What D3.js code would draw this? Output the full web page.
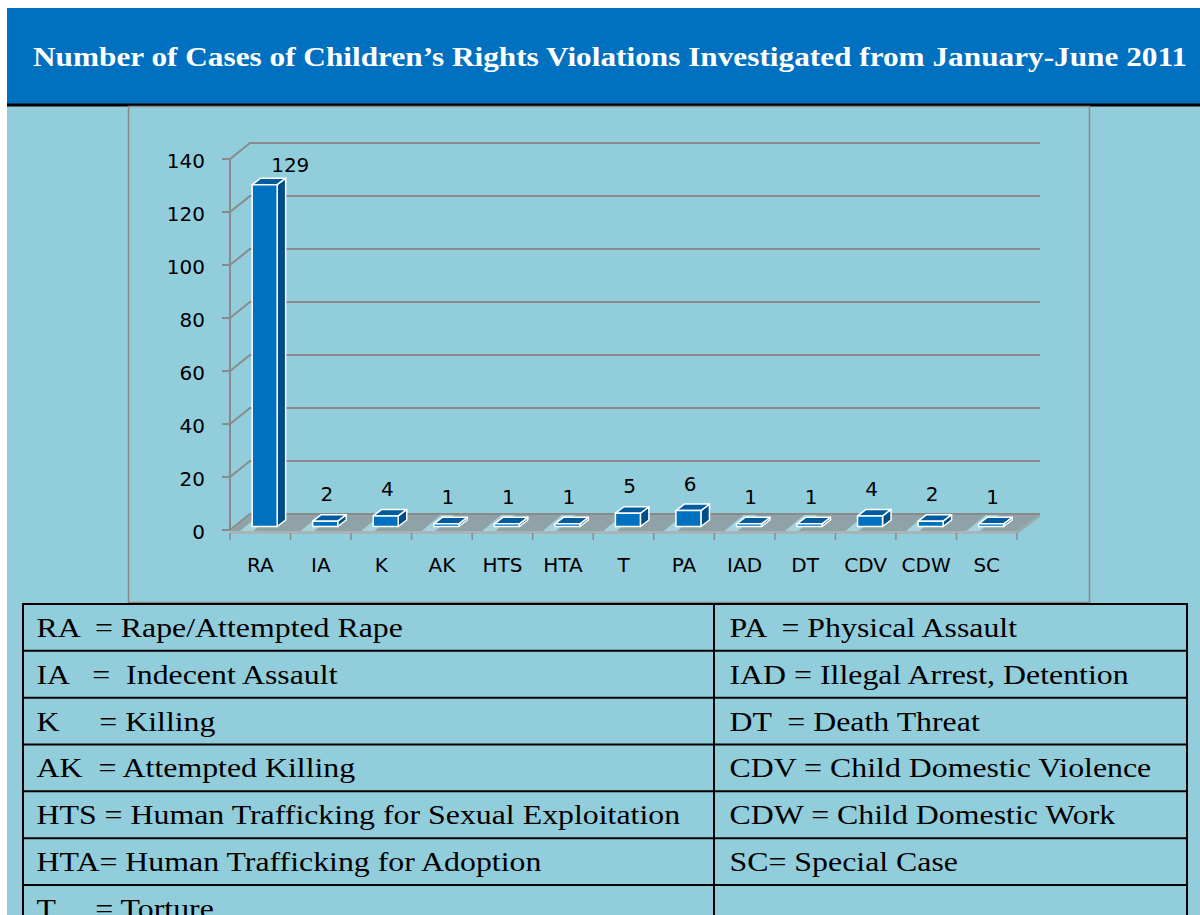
<!DOCTYPE html>
<html><head><meta charset="utf-8">
<script src="https://cdn.jsdelivr.net/npm/d3@7/dist/d3.min.js"></script>
<style>
html,body{margin:0;padding:0;background:#fff;}
svg{display:block;}
text{white-space:pre;}
</style></head>
<body>
<script>
// ---- data ----
const title = "Number of Cases of Children\u2019s Rights Violations Investigated from January-June 2011";
const categories = ["RA","IA","K","AK","HTS","HTA","T","PA","IAD","DT","CDV","CDW","SC"];
const values = [129,2,4,1,1,1,5,6,1,1,4,2,1];
const yTicks = [0,20,40,60,80,100,120,140];
const legendLeft = [
  "RA  = Rape/Attempted Rape",
  "IA   =  Indecent Assault",
  "K     = Killing",
  "AK  = Attempted Killing",
  "HTS = Human Trafficking for Sexual Exploitation",
  "HTA= Human Trafficking for Adoption",
  "T     = Torture"
];
const legendRight = [
  "PA  = Physical Assault",
  "IAD = Illegal Arrest, Detention",
  "DT  = Death Threat",
  "CDV = Child Domestic Violence",
  "CDW = Child Domestic Work",
  "SC= Special Case",
  ""
];

// ---- layout ----
const W = 1200, H = 915;
const svg = d3.select("body").append("svg").attr("width", W).attr("height", H);
const BG = "#92CDDC", BLUE = "#0070C0", GRID = "#8a8a8a";
const SANS = "'DejaVu Sans', sans-serif";

svg.append("rect").attr("x",7).attr("y",8).attr("width",W-7).attr("height",H-8).attr("fill",BG);
svg.append("rect").attr("x",7).attr("y",8).attr("width",W-7).attr("height",96).attr("fill",BLUE);
svg.append("rect").attr("x",7).attr("y",103.5).attr("width",W-7).attr("height",3).attr("fill","#000");
svg.append("text").attr("x",33).attr("y",66).attr("textLength",1154).attr("lengthAdjust","spacingAndGlyphs")
  .attr("font-family","'Liberation Serif', serif").attr("font-weight","bold").attr("font-size",28)
  .attr("fill","#fff").text(title);

// chart frame
svg.append("rect").attr("x",128.5).attr("y",106.5).attr("width",961).attr("height",496)
  .attr("fill","none").attr("stroke",GRID).attr("stroke-width",1.5);

const x = d3.scaleBand().domain(categories).range([230,1017]).paddingInner(0.587).paddingOuter(0.2935);
const y = d3.scaleLinear().domain([0,140]).range([530,159]);
const DX = 20, DY = -16;           // full depth offset
const F = 0.22;                    // bar depth position
const BDX = 8.5, BDY = -6.5;       // bar depth
const step = x.step();
const xL = x.range()[0], xR = x.range()[1];
const mid = c => x(c) + x.bandwidth()/2;

const g = svg.append("g");
// gridlines (side + back wall)
yTicks.forEach(t=>{
  const yy = y(t);
  g.append("line").attr("x1",xL-8).attr("x2",xL).attr("y1",yy).attr("y2",yy).attr("stroke",GRID).attr("stroke-width",2);
  g.append("path").attr("d",`M${xL},${yy}L${xL+DX},${yy+DY}L${xR+DX+3},${yy+DY}`)
    .attr("fill","none").attr("stroke",GRID).attr("stroke-width",2);
  g.append("text").attr("x",xL-25).attr("y",yy+9).attr("text-anchor","end")
    .attr("font-family",SANS).attr("font-size",20).attr("fill","#000").text(t);
});
g.append("line").attr("x1",xL).attr("x2",xL).attr("y1",y(140)-1).attr("y2",y(0)).attr("stroke",GRID).attr("stroke-width",2);

// floor
const defs = svg.append("defs");
const pat = defs.append("pattern").attr("id","floorPat").attr("patternUnits","userSpaceOnUse")
  .attr("width",step).attr("height",40).attr("patternTransform",`translate(${xL},0) skewX(-50)`);
pat.append("rect").attr("width",step).attr("height",40).attr("fill","#8fa2a7");
pat.append("rect").attr("x",step*0.62).attr("width",step*0.22).attr("height",40).attr("fill","#a4d2dd");
const y0 = y(0);
g.append("path").attr("d",`M${xL},${y0+1}L${xR},${y0+1}L${xR+DX+3},${y0+1+DY}L${xL+DX},${y0+1+DY}Z`)
  .attr("fill","url(#floorPat)");
g.append("path").attr("d",`M${xL},${y0+1}L${xR},${y0+1}L${xR},${y0+4}L${xL},${y0+4}Z`).attr("fill","#a7b4b8");
g.append("path").attr("d",`M${xR},${y0+1}L${xR+DX+3},${y0+1+DY}L${xR+DX+3},${y0+3+DY}L${xR},${y0+4}Z`).attr("fill","#9aa8ac");
// x ticks
d3.range(categories.length+1).forEach(i=>{
  const xx = xL + i*step;
  g.append("line").attr("x1",xx).attr("x2",xx).attr("y1",y0+3).attr("y2",y0+10).attr("stroke",GRID).attr("stroke-width",1.5);
});
categories.forEach(c=>{
  g.append("text").attr("x",mid(c)).attr("y",572).attr("text-anchor","middle")
    .attr("font-family",SANS).attr("font-size",20).attr("fill","#000").text(c);
});

// bars
const bars = g.append("g");
categories.forEach((c,i)=>{
  const v = values[i];
  const x0 = x(c) + F*DX, x1 = x0 + x.bandwidth();
  const yb = y(0) + F*DY, yt = y(v) + F*DY;
  const bg = bars.append("g").attr("stroke","#fff").attr("stroke-width",1.5).attr("stroke-linejoin","round");
  bg.append("path").attr("d",`M${x1},${yb}L${x1},${yt}L${x1+BDX},${yt+BDY}L${x1+BDX},${yb+BDY}Z`).attr("fill","#004C86");
  bg.append("path").attr("d",`M${x0},${yt}L${x1},${yt}L${x1+BDX},${yt+BDY}L${x0+BDX},${yt+BDY}Z`).attr("fill","#005C9F");
  bg.append("rect").attr("x",x0).attr("y",yt).attr("width",x1-x0).attr("height",yb-yt).attr("fill",BLUE);
  // value label (kept inside the plot top; moved beside the bar when clamped)
  const minBase = y(140) + DY + 29;
  let ly = yt - 20, lx = mid(c) + 6;
  if (ly < minBase) { ly = minBase; lx += 24; }
  g.append("text").attr("x",lx).attr("y",ly).attr("text-anchor","middle")
    .attr("font-family",SANS).attr("font-size",20).attr("fill","#000").text(v);
});

// legend table
const tx0 = 23, tx1 = 1187, tmid = 714, ty0 = 604, rh = 46.83;
const tbl = svg.append("g");
const nRows = legendLeft.length;
for (let r=0;r<nRows;r++){
  const ry = ty0 + r*rh;
  [[legendLeft[r],36.5],[legendRight[r],729.5]].forEach(([s,tx])=>{
    tbl.append("text").attr("transform",`translate(${tx},${ry+33}) scale(1.154,1)`)
      .attr("font-family","'Liberation Serif', serif").attr("font-size",27.6).attr("fill","#000").text(s);
  });
}
for (let r=0;r<=nRows;r++){
  const ry = ty0 + r*rh;
  tbl.append("line").attr("x1",tx0-1).attr("x2",tx1+1).attr("y1",ry).attr("y2",ry).attr("stroke","#000").attr("stroke-width",2);
}
[tx0,tmid,tx1].forEach(xx=>{
  tbl.append("line").attr("x1",xx).attr("x2",xx).attr("y1",ty0).attr("y2",ty0+nRows*rh).attr("stroke","#000").attr("stroke-width",2);
});
</script>
</body></html>
